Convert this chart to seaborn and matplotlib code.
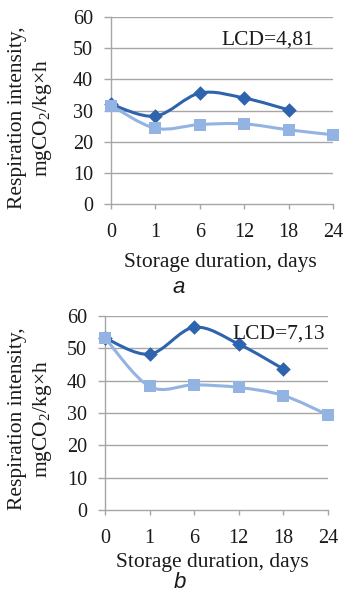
import numpy as np
import pandas as pd
import matplotlib
matplotlib.use("Agg")
import matplotlib.pyplot as plt
from matplotlib.path import Path
from matplotlib.patches import PathPatch
import seaborn as sns

# ---- data ----
days = ["0", "1", "6", "12", "18", "24"]
a_dark = [32.0, 28.2, 35.6, 34.0, 30.2]
a_light = [31.6, 24.3, 25.5, 25.7, 23.8, 22.2]
b_dark = [53.2, 48.2, 56.5, 51.3, 43.6]
b_light = [53.2, 38.2, 38.7, 37.9, 35.4, 29.4]
lcd_a = "LCD=4,81"
lcd_b = "LCD=7,13"
yticks = [0, 10, 20, 30, 40, 50, 60]
ylabel = "Respiration intensity,\nmgCO$_2$/kg×h"
xlabel = "Storage duration, days"

DARK = "#2E64AE"
LIGHT = "#93B3E2"
GRID = "#A6A6A6"
TXT = "#1a1a1a"
SERIF = ["Liberation Serif", "DejaVu Serif"]

sns.set_theme(style="white")
plt.rcParams["font.family"] = SERIF
plt.rcParams["mathtext.default"] = "regular"

W, H = 344, 594


def smooth_path(xs, ys):
    pts = np.column_stack([xs, ys]).astype(float)
    n = len(pts)
    verts = [pts[0]]
    codes = [Path.MOVETO]
    for i in range(n - 1):
        p0 = pts[i - 1] if i > 0 else pts[i]
        p1 = pts[i]
        p2 = pts[i + 1]
        p3 = pts[i + 2] if i + 2 < n else pts[i + 1]
        c1 = p1 + (p2 - p0) / 6.0
        c2 = p2 - (p3 - p1) / 6.0
        verts += [c1, c2, p2]
        codes += [Path.CURVE4] * 3
    return Path(verts, codes)


def panel(fig, px_rect, dark, light, lcd, lcd_px, ylab_px, xlab_px, letter, letter_px):
    l, t, r, b = px_rect
    ax = fig.add_axes([l / W, 1 - b / H, (r - l) / W, (b - t) / H])
    df_d = pd.DataFrame({"x": np.arange(len(dark)), "y": dark})
    df_l = pd.DataFrame({"x": np.arange(len(light)), "y": light})

    ax.add_patch(PathPatch(smooth_path(df_d["x"], df_d["y"]), fill=False,
                           edgecolor=DARK, lw=2.2, zorder=3, capstyle="round",
                           clip_on=False))
    sns.scatterplot(data=df_d, x="x", y="y", marker="D", s=55, color=DARK,
                    edgecolor=DARK, linewidth=0, ax=ax, zorder=4)
    ax.add_patch(PathPatch(smooth_path(df_l["x"], df_l["y"]), fill=False,
                           edgecolor=LIGHT, lw=2.2, zorder=5, capstyle="round",
                           clip_on=False))
    sns.scatterplot(data=df_l, x="x", y="y", marker="s", s=80, color=LIGHT,
                    edgecolor=LIGHT, linewidth=0, ax=ax, zorder=6)
    for c in ax.collections:
        c.set_clip_on(False)

    ax.set_xlim(0, len(days) - 1)
    ax.set_ylim(0, 60)
    ax.set_xticks(range(len(days)))
    ax.set_xticklabels(days)
    ax.set_yticks(yticks)
    ax.set_yticklabels([str(v) for v in yticks])
    for v in yticks[1:]:
        ax.axhline(v, color=GRID, lw=1.0, zorder=1)
    for s in ("top", "right"):
        ax.spines[s].set_visible(False)
    for s in ("left", "bottom"):
        ax.spines[s].set_color(GRID)
        ax.spines[s].set_linewidth(1.0)
    ax.tick_params(axis="x", bottom=True, length=3.5, width=1, color=GRID,
                   direction="out", labelsize=14.5, pad=10, labelcolor=TXT)
    ax.tick_params(axis="y", left=True, length=5, width=1, color=GRID,
                   direction="out", labelsize=14.5, pad=8, labelcolor=TXT)
    ax.grid(False)
    ax.set_xlabel("")
    ax.set_ylabel("")

    fig.text(xlab_px[0] / W, 1 - xlab_px[1] / H, xlabel, fontsize=15.5,
             color=TXT, ha="center", va="baseline")
    fig.text(ylab_px[0] / W, 1 - ylab_px[1] / H, ylabel, fontsize=15.5,
             color=TXT, ha="center", va="center", rotation=90,
             linespacing=1.2, multialignment="center")
    fig.text(lcd_px[0] / W, 1 - lcd_px[1] / H, lcd, fontsize=15.5,
             color=TXT, ha="left", va="baseline", zorder=7)
    fig.text(letter_px[0] / W, 1 - letter_px[1] / H, letter, fontsize=16,
             family=["Liberation Sans", "DejaVu Sans"], style="italic",
             ha="center", va="baseline", color=TXT)
    return ax


fig = plt.figure(figsize=(W / 100, H / 100), dpi=100)
panel(fig, (111, 17, 333, 204), a_dark, a_light, lcd_a,
      (221, 45), (31, 118), (220, 267), "a", (179, 293))
panel(fig, (105, 316, 328, 510), b_dark, b_light, lcd_b,
      (232, 339), (31, 419), (212, 567), "b", (180, 588))

fig.savefig("out.png", dpi=100, facecolor="white")
